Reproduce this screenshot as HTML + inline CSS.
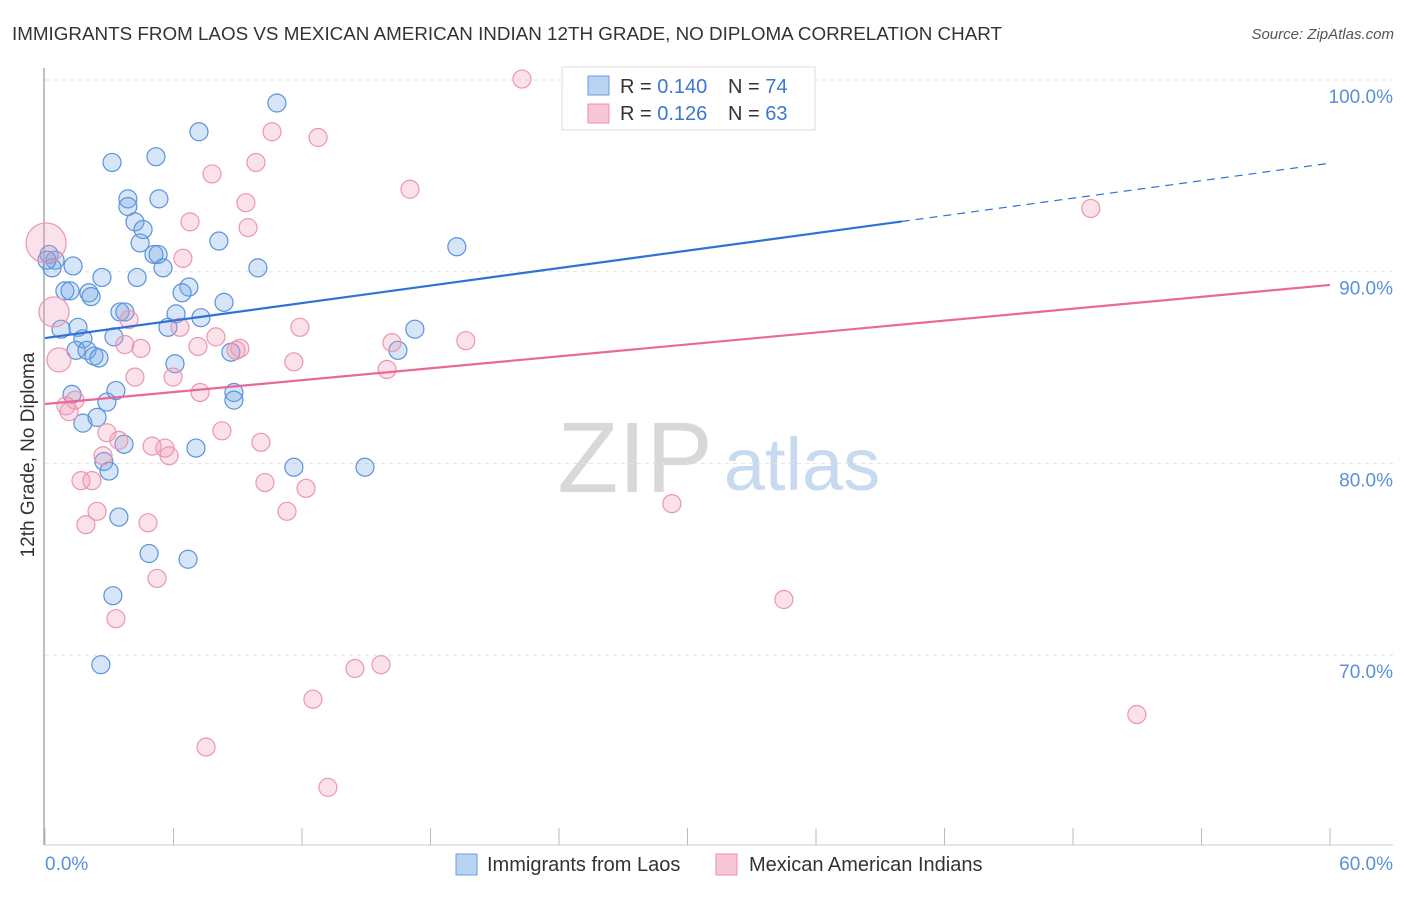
<!DOCTYPE html>
<html><head><meta charset="utf-8"><style>
body{margin:0;background:#fff;font-family:"Liberation Sans",sans-serif;}
svg text{font-family:"Liberation Sans",sans-serif;}
</style></head><body>
<svg id="chart" width="1406" height="892">
<text x="12" y="40" font-size="18" fill="#333" textLength="990" lengthAdjust="spacingAndGlyphs">IMMIGRANTS FROM LAOS VS MEXICAN AMERICAN INDIAN 12TH GRADE, NO DIPLOMA CORRELATION CHART</text>
<text x="1394" y="39" font-size="15" fill="#555" font-style="italic" text-anchor="end">Source: ZipAtlas.com</text>
<text x="635" y="492" font-size="100" fill="#d8d8d8" font-family="Liberation Serif, serif" text-anchor="middle">ZIP</text>
<text x="802" y="490" font-size="74" fill="#c8daf0" text-anchor="middle">atlas</text>
<g id="grid"></g><g id="axes"></g><g id="pts"></g><g id="lines"></g>
<text transform="translate(34,455) rotate(-90)" font-size="19" fill="#333" text-anchor="middle">12th Grade, No Diploma</text>
<text x="45" y="870" font-size="19" fill="#5b8fd9">0.0%</text>
<text x="1393" y="870" font-size="19" fill="#5b8fd9" text-anchor="end">60.0%</text>
<g>
<rect x="562" y="67" width="253" height="63" fill="#fff" stroke="#ddd"/>
<rect x="588" y="76" width="21" height="19" fill="#b9d3f3" stroke="#6a9ee0"/>
<rect x="588" y="104" width="21" height="19" fill="#f8c6d5" stroke="#ec8fac"/>
<text x="620" y="93" font-size="20" fill="#333">R = <tspan fill="#3a78d0">0.140</tspan></text>
<text x="728" y="93" font-size="20" fill="#333">N = <tspan fill="#3a78d0">74</tspan></text>
<text x="620" y="120" font-size="20" fill="#333">R = <tspan fill="#3a78d0">0.126</tspan></text>
<text x="728" y="120" font-size="20" fill="#333">N = <tspan fill="#3a78d0">63</tspan></text>
</g>
<g>
<rect x="456" y="854" width="21" height="21" fill="#b9d3f3" stroke="#6a9ee0"/>
<text x="487" y="871" font-size="20" fill="#333">Immigrants from Laos</text>
<rect x="716" y="854" width="21" height="21" fill="#f8c6d5" stroke="#ec8fac"/>
<text x="749" y="871" font-size="20" fill="#333">Mexican American Indians</text>
</g>
</svg>
<script>
const yTicks=[100,90,80,70];
const yTickLabels=["100.0%","90.0%","80.0%","70.0%"];
const xTicks=[0,6,12,18,24,30,36,42,48,54,60];
const blueX=[10.83,7.19,3.13,5.18,3.87,3.87,5.32,4.2,4.58,4.44,8.12,19.23,5.09,5.28,5.51,9.94,0.19,0.47,0.33,1.31,2.66,4.3,0.93,1.17,2.05,2.15,6.72,6.4,8.36,3.5,3.73,6.12,7.28,0.75,1.54,1.77,3.22,5.74,17.27,16.48,8.68,6.07,1.45,1.96,2.29,2.52,1.26,3.31,2.89,1.77,2.43,8.82,8.82,2.75,2.99,7.05,3.69,11.62,14.94,3.45,4.86,6.68,3.17,2.61,31.89,0.09];
const blueY=[98.8,97.3,95.7,96.0,93.8,93.4,93.8,92.6,92.2,91.5,91.6,91.3,90.9,90.9,90.2,90.2,90.9,90.6,90.2,90.3,89.7,89.7,89.0,89.0,88.9,88.7,89.2,88.9,88.4,87.9,87.9,87.8,87.6,87.0,87.1,86.5,86.6,87.1,87.0,85.9,85.8,85.2,85.9,85.9,85.6,85.5,83.6,83.8,83.2,82.1,82.4,83.7,83.3,80.1,79.6,80.8,81.0,79.8,79.8,77.2,75.3,75.0,73.1,69.5,99.1,90.6];
const pinkX=[0.05,0.42,0.65,22.27,31.61,10.6,12.75,9.85,7.8,17.04,9.38,9.48,6.77,48.83,6.44,6.3,11.9,7.98,8.92,9.1,7.14,4.48,3.73,3.92,16.2,19.65,11.62,15.97,5.98,4.2,7.24,1.4,0.98,1.12,2.89,3.45,5.0,5.6,5.79,2.71,8.26,10.08,1.68,2.19,2.43,1.91,4.81,10.27,12.19,11.3,29.27,5.23,3.31,34.5,14.47,15.69,12.51,7.52,13.21,50.98];
const pinkY=[91.5,87.9,85.4,100.05,100.0,97.3,97.0,95.7,95.1,94.3,93.6,92.3,92.6,93.3,90.7,87.1,87.1,86.6,85.9,86.0,86.1,86.0,86.2,87.5,86.3,86.4,85.3,84.9,84.5,84.5,83.7,83.3,83.0,82.7,81.6,81.2,80.9,80.8,80.4,80.4,81.7,81.1,79.1,79.1,77.5,76.8,76.9,79.0,78.7,77.5,77.9,74.0,71.9,72.9,69.3,69.5,67.7,65.2,63.1,66.9];
const pinkR=[20,15,12];
const blueFit=[86.54,0.152];
const pinkFit=[83.1,0.1035];
const NS="http://www.w3.org/2000/svg";
const X=v=>45+v*21.417;
const Y=v=>80+(100-v)*19.17;
function mk(tag,attrs,parent){const e=document.createElementNS(NS,tag);for(const k in attrs)e.setAttribute(k,attrs[k]);document.getElementById(parent).appendChild(e);return e;}
yTicks.forEach((t,i)=>{
 const g=mk('line',{x1:45,x2:1393,y1:Y(t),y2:Y(t),stroke:'#e2e2e2','stroke-dasharray':'4,4'},'grid');
 
 
 const tx=mk('text',{x:1393,y:Y(t)+23,'font-size':19,fill:'#5b8fd9','text-anchor':'end'},'grid');
 tx.textContent=yTickLabels[i];
 
 
});
const ya=mk('line',{x1:44,x2:44,y1:68,y2:845,stroke:'#aaa','stroke-width':1.5},'axes');


const xa=mk('line',{x1:44,x2:1393,y1:845,y2:845,stroke:'#ccc'},'axes');


xTicks.forEach(t=>{
 const l=mk('line',{x1:X(t),x2:X(t),y1:828,y2:845,stroke:'#bbb'},'axes');
 
 
});
blueX.forEach((v,i)=>{
 const c=mk('circle',{cx:X(v),cy:Y(blueY[i]),r:9,fill:'rgba(120,170,230,0.3)',stroke:'#5b92dc','stroke-width':1.2},'pts');
 
 
});
pinkX.forEach((v,i)=>{
 const c=mk('circle',{cx:X(v),cy:Y(pinkY[i]),r:pinkR[i]||9,fill:'rgba(240,150,180,0.28)',stroke:'#ec95b0','stroke-width':1.2},'pts');
 
 
});
const bl=mk('line',{x1:X(0),y1:Y(blueFit[0]),x2:X(40),y2:Y(blueFit[0]+40*blueFit[1]),stroke:'#2f72d6','stroke-width':2.2},'lines');


const bd=mk('line',{x1:X(40),y1:Y(blueFit[0]+40*blueFit[1]),x2:X(60),y2:Y(blueFit[0]+60*blueFit[1]),stroke:'#2f72d6','stroke-width':1.2,'stroke-dasharray':'8,6'},'lines');


const pl=mk('line',{x1:X(0),y1:Y(pinkFit[0]),x2:X(60),y2:Y(pinkFit[0]+60*pinkFit[1]),stroke:'#e8689a','stroke-width':2.2},'lines');


</script>
</body></html>
